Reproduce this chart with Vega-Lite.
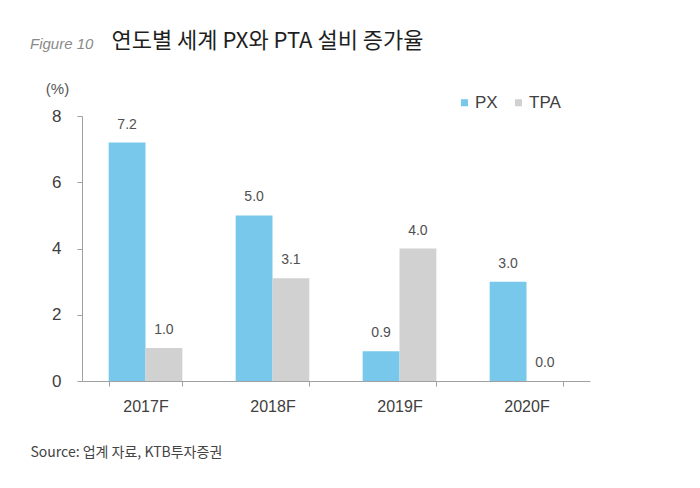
{
  "$schema": "https://vega.github.io/schema/vega-lite/v6.json",
  "width": 508,
  "height": 265,
  "autosize": {"type": "none"},
  "padding": {"left": 82, "top": 116, "right": 110, "bottom": 107},
  "background": "white",
  "title": {
    "text": "Figure 10",
    "subtitle": "\u200b\u2003\u2003\u2003\u2002\u2009연도별 세계 PX와 PTA 설비 증가율",
    "anchor": "start",
    "frame": "group",
    "dx": -52,
    "dy": -18,
    "font": "Liberation Sans",
    "fontStyle": "italic",
    "fontWeight": "normal",
    "fontSize": 15,
    "color": "#8a8a8a",
    "subtitleFont": "Noto Sans CJK KR",
    "subtitleFontSize": 22,
    "subtitleColor": "#1f1f1f",
    "subtitlePadding": -21
  },
  "data": {
    "values": [
      {"year": "2017F", "series": "PX", "value": 7.2},
      {"year": "2017F", "series": "TPA", "value": 1.0},
      {"year": "2018F", "series": "PX", "value": 5.0},
      {"year": "2018F", "series": "TPA", "value": 3.1},
      {"year": "2019F", "series": "PX", "value": 0.9},
      {"year": "2019F", "series": "TPA", "value": 4.0},
      {"year": "2020F", "series": "PX", "value": 3.0},
      {"year": "2020F", "series": "TPA", "value": 0.0}
    ]
  },
  "encoding": {
    "x": {
      "field": "year",
      "type": "nominal",
      "scale": {"paddingInner": 0.42, "paddingOuter": 0.21},
      "axis": {
        "title": "Source: 업계 자료, KTB투자증권",
        "titleFont": "Noto Sans CJK KR",
        "titleFontWeight": "normal",
        "titleFontSize": 14,
        "titleColor": "#444444",
        "titleAnchor": "start",
        "titleAlign": "left",
        "titleBaseline": "middle",
        "titleX": -52,
        "titleY": 71,
        "labelAngle": 0,
        "labelFont": "Liberation Sans",
        "labelFontSize": 16,
        "labelColor": "#404040",
        "labelPadding": 12,
        "tickBand": "extent",
        "tickSize": 5,
        "tickColor": "#a0a0a0",
        "domainColor": "#a0a0a0"
      }
    },
    "xOffset": {"field": "series", "type": "nominal", "sort": ["PX", "TPA"], "scale": {"paddingInner": 0, "paddingOuter": 0}},
    "y": {
      "field": "value",
      "type": "quantitative",
      "scale": {"domain": [0, 8]},
      "axis": {
        "values": [0, 2, 4, 6, 8],
        "grid": false,
        "title": "(%)",
        "titleAngle": 0,
        "titleX": -25,
        "titleY": -28,
        "titleAlign": "center",
        "titleBaseline": "middle",
        "titleFont": "Liberation Sans",
        "titleFontWeight": "normal",
        "titleFontSize": 15,
        "titleColor": "#555555",
        "labelFont": "Liberation Sans",
        "labelFontSize": 17,
        "labelColor": "#404040",
        "labelPadding": 16,
        "tickSize": 5,
        "tickColor": "#a0a0a0",
        "domainColor": "#a0a0a0"
      }
    }
  },
  "layer": [
    {
      "mark": {"type": "bar"},
      "encoding": {
        "color": {
          "field": "series",
          "type": "nominal",
          "sort": ["PX", "TPA"],
          "scale": {"domain": ["PX", "TPA"], "range": ["#77C8EB", "#D1D1D1"]},
          "legend": {
            "title": null,
            "orient": "none",
            "legendX": 374,
            "legendY": -22,
            "direction": "horizontal",
            "symbolType": "square",
            "symbolSize": 50,
            "symbolStrokeWidth": 0,
            "labelFont": "Liberation Sans",
            "labelFontSize": 17,
            "labelColor": "#404040",
            "labelOffset": 2,
            "columnPadding": 12
          }
        }
      }
    },
    {
      "mark": {"type": "text", "baseline": "bottom", "dy": -11, "font": "Liberation Sans", "fontSize": 14, "color": "#505050"},
      "encoding": {
        "text": {"field": "value", "type": "quantitative", "format": ".1f"}
      }
    }
  ],
  "config": {"view": {"stroke": null}}
}
